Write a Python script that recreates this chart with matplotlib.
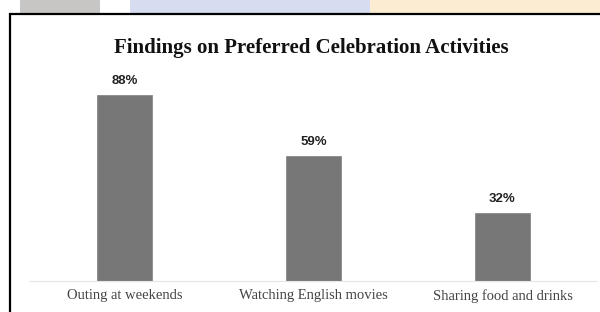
import matplotlib.pyplot as plt
from matplotlib.patches import Rectangle

categories = ["Outing at weekends", "Watching English movies", "Sharing food and drinks"]
values = [88, 59, 32]
value_labels = ["88%", "59%", "32%"]

fig = plt.figure(figsize=(6, 3.12), dpi=100)
fig.patch.set_facecolor("white")

# watermark strips outside the chart frame
fig.patches.append(Rectangle((130 / 600, 1 - 14 / 312), 240 / 600, 14 / 312,
                             transform=fig.transFigure, facecolor="#d6ddf0", edgecolor="none", zorder=0))
fig.patches.append(Rectangle((370 / 600, 1 - 14 / 312), 230 / 600, 14 / 312,
                             transform=fig.transFigure, facecolor="#fcecd2", edgecolor="none", zorder=0))
fig.patches.append(Rectangle((20 / 600, 1 - 14 / 312), 80 / 600, 14 / 312,
                             transform=fig.transFigure, facecolor="#c8c6c4", edgecolor="none", zorder=0))

# chart frame
fig.patches.append(Rectangle((10 / 600, -0.05), 1.0, 1 - 14 / 312 + 0.05,
                             transform=fig.transFigure, facecolor="white", edgecolor="black",
                             linewidth=1.6, zorder=1))

ax = fig.add_axes([30 / 600, 1 - 281 / 312, 567 / 600, 211.4 / 312])
ax.set_zorder(3)
ax.set_facecolor("none")
x = range(len(categories))
bars = ax.bar(x, values, width=0.286, color="#777777", edgecolor="#8a8a8a", linewidth=0.6)
for b, lab in zip(bars, value_labels):
    ax.text(b.get_x() + b.get_width() / 2, b.get_height() + 6.6, lab,
            ha="center", va="center", fontsize=9.5, fontweight="bold",
            family="Liberation Sans", color="#222222")

ax.set_xlim(-0.5, len(categories) - 0.5)
ax.set_ylim(0, 100)
ax.set_xticks(list(x))
ax.set_xticklabels(categories, family="Liberation Serif", fontsize=10.5, color="#444444")
ax.tick_params(axis="x", length=0, pad=6)
ax.set_yticks([])
for s in ["top", "right", "left"]:
    ax.spines[s].set_visible(False)
ax.spines["bottom"].set_color("#e6e6e6")
ax.spines["bottom"].set_linewidth(0.8)

fig.text(311 / 600, 1 - 48 / 312, "Findings on Preferred Celebration Activities",
         ha="center", va="center", fontsize=15, fontweight="bold",
         family="Liberation Serif", color="#111111")

fig.savefig("out.png", dpi=100)
